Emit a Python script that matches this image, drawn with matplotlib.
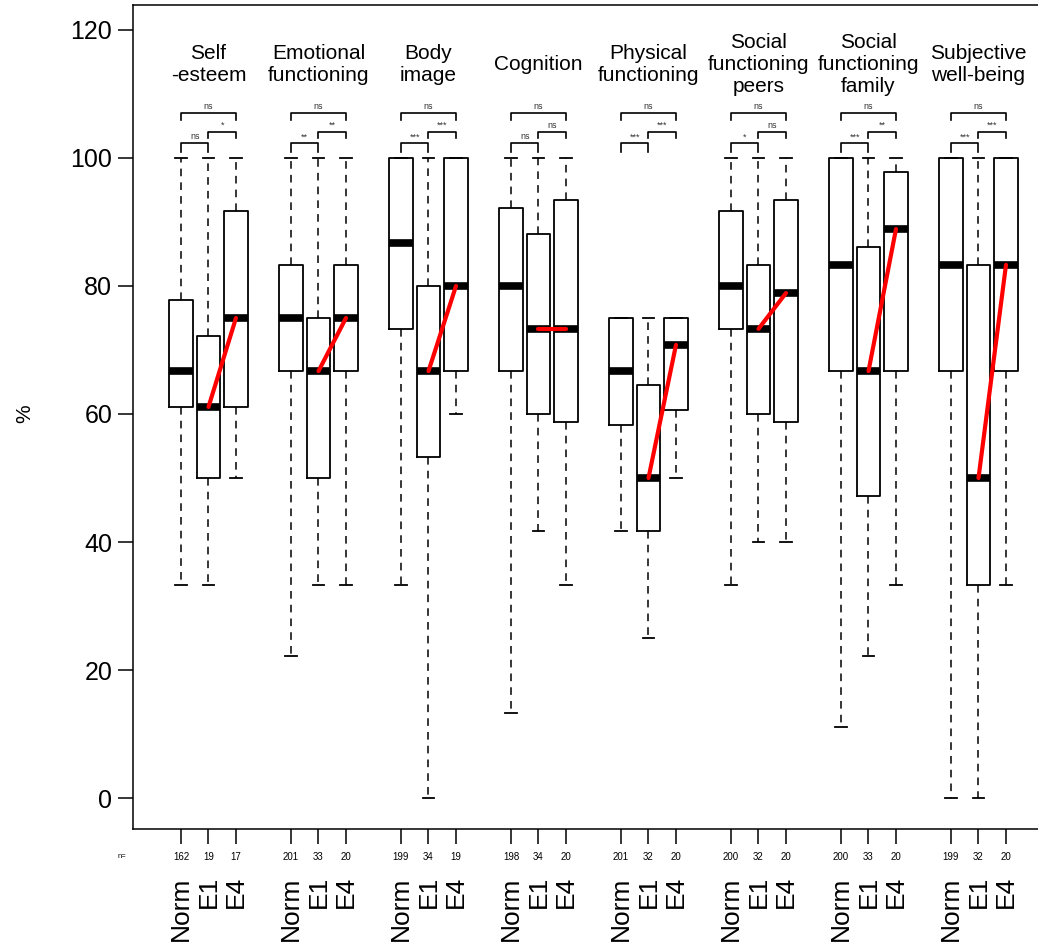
import matplotlib.pyplot as plt

plt.rcParams['font.family'] = ['Liberation Sans', 'DejaVu Sans']

categories = ['Self\n-esteem', 'Emotional\nfunctioning', 'Body\nimage', 'Cognition',
              'Physical\nfunctioning', 'Social\nfunctioning\npeers',
              'Social\nfunctioning\nfamily', 'Subjective\nwell-being']
groups = ['Norm', 'E1', 'E4']

n_counts = [162, 19, 17, 201, 33, 20, 199, 34, 19, 198, 34, 20,
            201, 32, 20, 200, 32, 20, 200, 33, 20, 199, 32, 20]

# box statistics per box, order Norm, E1, E4 within each category
whis_lo = [33.3, 33.3, 50.0,  22.2, 33.3, 33.3,  33.3, 0.0, 60.0,  13.3, 41.7, 33.3,
           41.7, 25.0, 50.0,  33.3, 40.0, 40.0,  11.1, 22.2, 33.3,  0.0, 0.0, 33.3]
q1 = [61.1, 50.0, 61.1,  66.7, 50.0, 66.7,  73.3, 53.3, 66.7,  66.7, 60.0, 58.8,
      58.3, 41.7, 60.6,  73.3, 60.0, 58.8,  66.7, 47.2, 66.7,  66.7, 33.3, 66.7]
medians = [66.7, 61.1, 75.0,  75.0, 66.7, 75.0,  86.7, 66.7, 80.0,  80.0, 73.3, 73.3,
           66.7, 50.0, 70.8,  80.0, 73.3, 78.9,  83.3, 66.7, 88.9,  83.3, 50.0, 83.3]
q3 = [77.8, 72.2, 91.7,  83.3, 75.0, 83.3,  100.0, 80.0, 100.0,  92.2, 88.1, 93.4,
      75.0, 64.6, 75.0,  91.7, 83.3, 93.4,  100.0, 86.1, 97.8,  100.0, 83.3, 100.0]
whis_hi = [100, 100, 100,  100, 100, 100,  100, 100, 100,  100, 100, 100,
           75, 75, 75,  100, 100, 100,  100, 100, 100,  100, 100, 100]

# significance labels: Norm vs E1, E1 vs E4, Norm vs E4
sig_norm_e1 = ['ns', '**', '***', 'ns', '***', '*', '***', '***']
sig_e1_e4 = ['*', '**', '***', 'ns', '***', 'ns', '**', '***']
sig_norm_e4 = ['ns', 'ns', 'ns', 'ns', 'ns', 'ns', 'ns', 'ns']

positions = [4 * g + k + 1 for g in range(len(categories)) for k in range(len(groups))]

fig = plt.figure(figsize=(10.38, 9.42), dpi=100)
ax = fig.add_axes([133 / 1038, 113 / 942, 911.5 / 1038, 824 / 942])

stats = []
for i in range(len(positions)):
    stats.append({'whislo': whis_lo[i], 'q1': q1[i], 'med': medians[i],
                  'q3': q3[i], 'whishi': whis_hi[i], 'fliers': []})

ax.bxp(stats, positions=positions, widths=0.84, capwidths=0.42,
       boxprops=dict(color='black', linewidth=1.3),
       medianprops=dict(color='black', linewidth=5.5, solid_capstyle='butt'),
       whiskerprops=dict(color='black', linewidth=1.1, linestyle=(0, (5, 4))),
       capprops=dict(color='black', linewidth=1.3),
       showfliers=False)

# red lines joining E1 and E4 medians
for g in range(len(categories)):
    i1, i4 = 3 * g + 1, 3 * g + 2
    ax.plot([positions[i1], positions[i4]], [medians[i1], medians[i4]],
            color='red', linewidth=3, solid_capstyle='round', zorder=5)


def bracket(x0, x1, y, leg, label, lx):
    ax.plot([x0, x0, x1, x1], [y - leg, y, y, y - leg], color='black', linewidth=1.2)
    ax.text(lx, y + 0.3, label, ha='center', va='bottom', fontsize=6.5, color='#333333')


for g, cat in enumerate(categories):
    p0, p1, p2 = positions[3 * g], positions[3 * g + 1], positions[3 * g + 2]
    bracket(p0, p1, 102.3, 1.3, sig_norm_e1[g], (p0 + p1) / 2)
    bracket(p1, p2, 104.1, 1.0, sig_e1_e4[g], (p1 + p2) / 2)
    bracket(p0, p2, 107.0, 1.1, sig_norm_e4[g], p1)
    ax.text(p1, 114.6, cat, ha='center', va='center', fontsize=15, linespacing=1.2)

for p, n in zip(positions, n_counts):
    ax.text(p, -9.2, str(n), ha='center', va='center', fontsize=7, clip_on=False)
ax.text(-1.3, -9.2, 'n=', ha='left', va='center', fontsize=5.5, clip_on=False)

ax.set_xlim(-0.745, 32.4)
ax.set_ylim(-4.84, 123.9)
ax.set_yticks([0, 20, 40, 60, 80, 100, 120])
ax.set_xticks(positions)
ax.set_xticklabels(groups * len(categories), rotation=90)
ax.tick_params(axis='x', length=11, width=1.1, pad=23, labelsize=19)
ax.tick_params(axis='y', length=11, width=1.1, pad=4, labelsize=18)
for s in ax.spines.values():
    s.set_linewidth(1.1)

fig.text(25 / 1038, 1 - 414 / 942, '%', rotation=90, ha='center', va='center', fontsize=15)

plt.savefig('out.png', dpi=100)
